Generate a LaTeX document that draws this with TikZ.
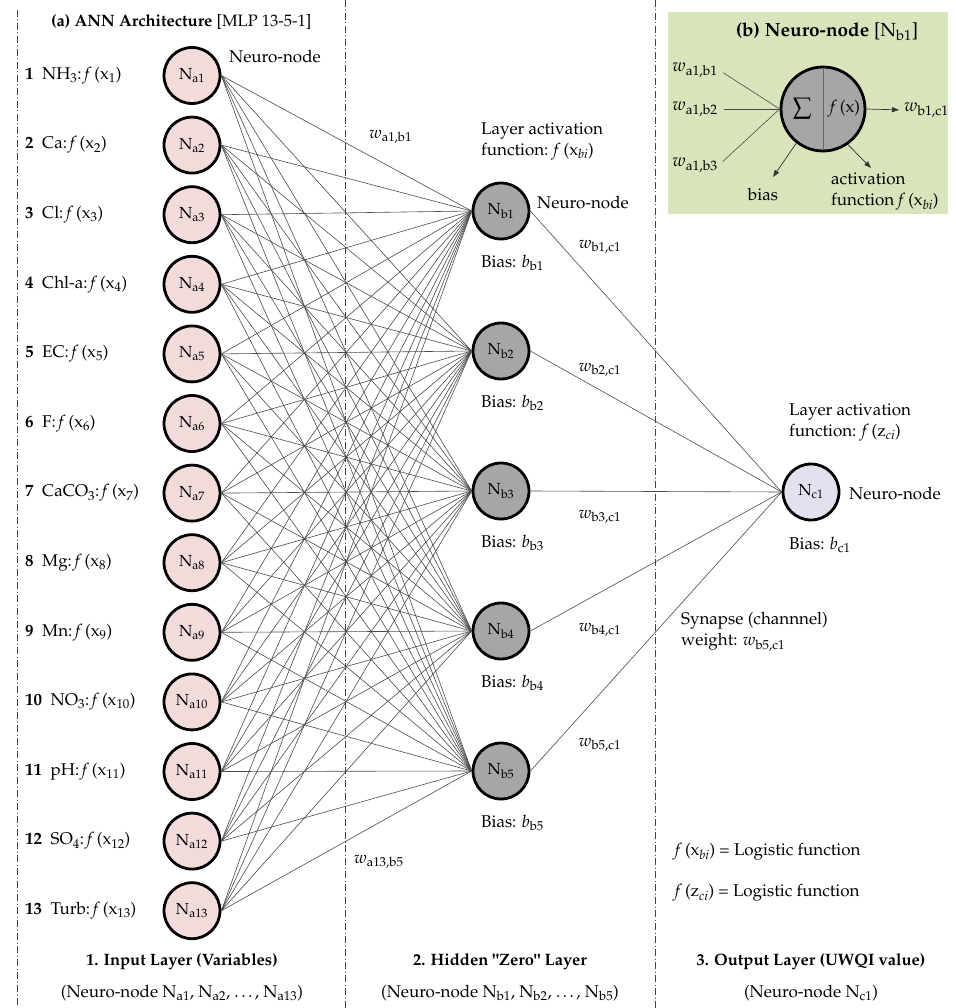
\documentclass[tikz,border=0pt]{standalone}
\usepackage[T1]{fontenc}
\usepackage{mathpazo}
\usetikzlibrary{arrows.meta}
\definecolor{inpink}{RGB}{242,220,219}
\definecolor{hidgray}{RGB}{166,166,166}
\definecolor{outlav}{RGB}{229,224,238}
\definecolor{boxgreen}{RGB}{216,228,188}
\definecolor{conngray}{RGB}{75,75,75}
\newcommand\fxx[2]{\textit{f}\,(#1\textsubscript{#2})}
\begin{document}
\begin{tikzpicture}[x=1pt,y=-1pt,
  every node/.style={font=\fontsize{17}{21}\selectfont, inner sep=1pt},
  neuron/.style={circle, draw=black, line width=2.8pt, minimum size=56pt, inner sep=0pt, font=\fontsize{16}{19}\selectfont},
  inneuron/.style={neuron, fill=inpink},
  hidneuron/.style={neuron, fill=hidgray},
  outneuron/.style={neuron, fill=outlav},
  conn/.style={draw=conngray, line width=0.6pt},
  sepline/.style={draw=black!75, line width=0.8pt, dash pattern=on 7pt off 2.5pt on 1pt off 2.5pt},
  lbl/.style={anchor=west},
  twoline/.style={anchor=west, align=left},
  ttl/.style={font=\fontsize{16.5}{20}\selectfont\bfseries},
  arr/.style={draw=black!80, line width=0.7pt, -{Triangle[length=7pt,width=5pt]}}
]
\useasboundingbox (0,0) rectangle (955,1008);
\fill[white] (0,0) rectangle (955,1008);

% separators
\draw[sepline] (17,10) -- (17,1008);
\draw[sepline] (345,0) -- (345,1008);
\draw[sepline] (655,0) -- (655,1008);

% inset background
\fill[boxgreen] (668,12) rectangle (948,214);

% title
\node[lbl, font=\fontsize{16.5}{20}\selectfont] (titlea) at (50,22) {\textbf{(a) ANN Architecture} [MLP 13-5-1]};

% input layer
\foreach \i/\nm in {1/NH\textsubscript{3}, 2/Ca, 3/Cl, 4/Chl-a, 5/EC, 6/F, 7/CaCO\textsubscript{3}, 8/Mg, 9/Mn, 10/NO\textsubscript{3}, 11/pH, 12/SO\textsubscript{4}, 13/Turb}{
  \pgfmathsetmacro\yy{75.5+69.6*(\i-1)}
  \node[inneuron] (a\i) at (192,\yy) {N\textsubscript{a\i}};
  \node[lbl] (la\i) at (24,\yy) {\textbf{\i}~~\nm:\,\fxx{x}{\i}};
}

% hidden layer
\foreach \j in {1,...,5}{
  \pgfmathsetmacro\yy{211+140*(\j-1)}
  \node[hidneuron] (b\j) at (501,\yy) {N\textsubscript{b\j}};
  \node[lbl] (bias\j) at (480,\yy+52) {Bias: $b_{\mathrm{b\j}}$};
}

% output
\node[outneuron] (c1) at (811,492) {N\textsubscript{c1}};

% connectors
\foreach \i in {1,...,13}{
  \foreach \j in {1,...,5}{
    \draw[conn] (a\i.east) -- (b\j.west);
  }
}
\foreach \j in {1,...,5}{
  \draw[conn] (b\j.east) -- (c1.west);
}

% weight labels
\foreach \j/\yw in {1/247, 2/370, 3/517, 4/630, 5/745}{
  \node (wb\j) at (600,\yw) {$w_{\mathrm{b\j,c1}}$};
}
\node[lbl] (wa1) at (368,137) {$w_{\mathrm{a1,b1}}$};
\node[lbl] (wa13) at (353,862) {$w_{\mathrm{a13,b5}}$};

% neuro-node labels
\node[lbl] (nna) at (228,57) {Neuro-node};
\node[lbl] (nnb) at (536,203) {Neuro-node};
\node[lbl] (nnc) at (848,494) {Neuro-node};

% activation labels
\node[twoline] (acth) at (480,141) {Layer activation\\function: \fxx{x}{\textit{bi}}};
\node[twoline] (acto) at (788,422) {Layer activation\\function: \fxx{z}{\textit{ci}}};
\node[lbl] (biasc) at (788,545) {Bias: $b_{\mathrm{c1}}$};
\node[twoline] (syn) at (680,632) {Synapse (channnel)\\weight: $w_{\mathrm{b5,c1}}$};

% logistic notes
\node[lbl] (log1) at (674,852) {\fxx{x}{\textit{bi}} = Logistic function};
\node[lbl] (log2) at (674,893) {\fxx{z}{\textit{ci}} = Logistic function};

% bottom titles
\node[ttl] (t1) at (182,962) {1. Input Layer (Variables)};
\node[ttl] (t2) at (500,962) {2. Hidden \textquotedbl Zero\textquotedbl{} Layer};
\node[ttl] (t3) at (811,962) {3. Output Layer (UWQI value)};
\node (s1) at (182,993) {(Neuro-node N\textsubscript{a1}, N\textsubscript{a2}, \dots, N\textsubscript{a13})};
\node (s2) at (500,993) {(Neuro-node N\textsubscript{b1}, N\textsubscript{b2}, \dots, N\textsubscript{b5})};
\node (s3) at (811,993) {(Neuro-node N\textsubscript{c1})};

% inset (b)
\node[font=\fontsize{19}{23}\selectfont] (titleb) at (827,32) {\textbf{(b) Neuro-node} [N\textsubscript{b1}]};
\node[circle, draw=black, line width=2.8pt, fill=hidgray, minimum size=84pt, inner sep=0pt] (nb) at (823,109) {};
\draw[draw=black!60, line width=0.8pt, shorten <=2pt, shorten >=2pt] (nb.north) -- (nb.south);
\node (sig) at (802,109) {$\displaystyle\sum$};
\node (fxn) at (845,109) {\textit{f}\,(x)};
\node[anchor=east, font=\fontsize{18}{22}\selectfont] (wi1) at (719,70) {$w_{\mathrm{a1,b1}}$};
\node[anchor=east, font=\fontsize{18}{22}\selectfont] (wi2) at (719,109) {$w_{\mathrm{a1,b2}}$};
\node[anchor=east, font=\fontsize{18}{22}\selectfont] (wi3) at (719,165) {$w_{\mathrm{a1,b3}}$};
\draw[conn, shorten <=5pt] (wi1.east) -- (nb.west);
\draw[conn, shorten <=5pt] (wi2.east) -- (nb.west);
\draw[conn, shorten <=5pt] (wi3.east) -- (nb.west);
\node[lbl, font=\fontsize{18}{22}\selectfont] (wo) at (903,110) {$w_{\mathrm{b1,c1}}$};
\draw[arr, shorten >=4pt] (nb.east) -- (wo.west);
\coordinate (biasend) at (773,177);
\draw[arr] (nb.232) -- (biasend);
\node (biaslbl) at (763,195) {bias};
\coordinate (actend) at (871,168);
\draw[arr] (nb.305) -- (actend);
\node[anchor=north west, align=left] (actlbl) at (830,172) {activation\\function \fxx{x}{\textit{bi}}};
\end{tikzpicture}
\end{document}
